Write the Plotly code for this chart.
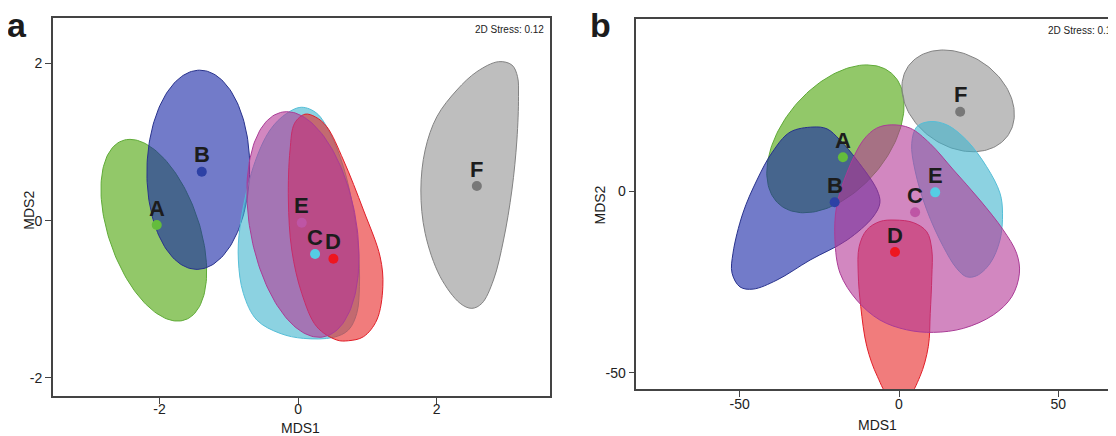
import numpy as np
import plotly.graph_objects as go

# The page body keeps the browser's default 8px margin, so the figure is drawn at (8, 8)
OX, OY = 8, 8
W, H = 1116 - OX, 436 - OY

groups = ["A", "B", "C", "D", "E", "F"]

# ---------------- Panel a (MDS1 / MDS2 coordinates) ----------------
a_point_x = [-2.04, -1.39, 0.245, 0.51, 0.053, 2.58]
a_point_y = [-0.055, 0.623, -0.424, -0.483, -0.025, 0.441]
a_colorkey = {"A": "green", "B": "navy", "C": "cyan", "D": "red", "E": "magenta", "F": "gray"}
# ellipse groups: centre x, centre y, half-width, half-height, x-offset of top point
a_ellipses = {
    "A": (-2.082, -0.121, 0.763, 1.156, -0.344),
    "B": (-1.44, 0.648, 0.742, 1.267, 0.02),
    "E": (0.070, -0.048, 0.809, 1.435, -0.233),
}
a_hull_C_x = [0.053, 0.270, 0.462, 0.654, 0.799, 0.871, 0.885, 0.847, 0.726, 0.510, 0.077,
              -0.260, -0.596, -0.790, -0.862, -0.838, -0.645, -0.404, -0.163]
a_hull_C_y = [1.443, 1.366, 1.112, 0.687, 0.136, -0.373, -0.840, -1.178, -1.391, -1.484, -1.497,
              -1.433, -1.263, -0.924, -0.500, -0.076, 0.687, 1.154, 1.366]
a_hull_D_x = [0.10, 0.25, 0.414, 0.654, 0.943, 1.184, 1.223, 1.136, 0.943, 0.726, 0.559, 0.270,
              0.053, -0.091, -0.140, -0.116, -0.05]
a_hull_D_y = [1.355, 1.32, 1.196, 0.772, 0.136, -0.458, -0.840, -1.263, -1.476, -1.527, -1.518, -1.349,
              -0.924, -0.373, 0.263, 0.899, 1.24]
a_hull_F_x = [2.892, 3.086, 3.167, 3.181, 3.158, 3.086, 2.965, 2.820, 2.653, 2.508, 2.339, 2.051,
              1.834, 1.772, 1.834, 2.003, 2.292, 2.581]
a_hull_F_y = [2.023, 1.981, 1.832, 1.578, 1.027, 0.391, -0.246, -0.754, -1.051, -1.115, -1.051, -0.712,
              -0.160, 0.391, 0.900, 1.323, 1.663, 1.896]
a_hulls = {"C": (a_hull_C_x, a_hull_C_y), "D": (a_hull_D_x, a_hull_D_y), "F": (a_hull_F_x, a_hull_F_y)}
a_xticks = [-2, 0, 2]
a_yticks = [-2, 0, 2]
a_xticktext = ["-2", "0", "2"]
a_yticktext = ["-2", "0", "2"]

# ---------------- Panel b ----------------
b_point_x = [-17.6, -20.2, 5.05, -1.26, 11.36, 19.2]
b_point_y = [9.27, -3.1, -5.87, -16.8, -0.37, 21.8]
b_colorkey = {"A": "green", "B": "navy", "C": "magenta", "D": "red", "E": "cyan", "F": "gray"}
b_ellipses = {
    "A": (-19.95, 14.35, 21.55, 20.35, 9.85),
    "F": (18.55, 24.8, 17.65, 14.0, -4.65),
}
b_hull_B_x = [-27.0, -34.2, -39.9, -44.6, -49.0, -52.1, -52.4, -49.9, -45.8, -38.3, -27.9, -16.3,
              -8.2, -6.0, -6.9, -13.2, -18.5, -22.6]
b_hull_B_y = [17.6, 16.2, 10.5, 3.0, -6.1, -17.1, -22.6, -26.4, -27.0, -24.5, -19.0, -13.5,
              -7.2, -3.3, 0.3, 8.5, 14.0, 17.1]
b_hull_C_x = [-2.3, 3.5, 9.7, 17.1, 25.4, 32.7, 36.9, 37.8, 35.4, 29.6, 20.2, 10.8, 2.4, -6.0,
              -13.3, -18.5, -20.1, -19.6, -16.4, -11.2, -7.0]
b_hull_C_y = [18.2, 17.3, 13.1, 5.8, -2.5, -10.7, -17.1, -22.6, -29.1, -34.1, -37.8, -38.9, -38.2, -35.5,
              -30.0, -22.6, -13.5, -4.3, 4.9, 14.0, 17.3]
b_hull_D_x = [-1.26, 4.5, 8.7, 10.3, 10.3, 9.8, 9.2, 6.6, 2.6, -2.8, -6.8, -10.1, -12.0, -12.8, -12.5,
              -10.1, -6.0]
b_hull_D_y = [-8.0, -8.7, -11.2, -16.2, -23.6, -33.7, -42.8, -51.0, -56.8, -56.8, -51.0, -42.8, -31.8,
              -22.6, -15.3, -10.7, -8.4]
b_hull_E_x = [9.7, 15.0, 21.2, 27.5, 31.7, 32.5, 31.7, 28.6, 24.4, 21.2, 18.1, 13.9, 8.7, 5.0, 4.0, 5.6]
b_hull_E_y = [19.1, 18.2, 14.0, 6.7, -0.6, -6.1, -13.5, -19.9, -23.3, -23.6, -21.3, -15.3, -5.2, 5.8,
              13.1, 17.7]
b_hulls = {"B": (b_hull_B_x, b_hull_B_y), "C": (b_hull_C_x, b_hull_C_y),
           "D": (b_hull_D_x, b_hull_D_y), "E": (b_hull_E_x, b_hull_E_y)}
b_xticks = [-50, 0, 50]
b_yticks = [-50, 0]
b_xticktext = ["-50", "0", "50"]
b_yticktext = ["-50", "0"]

stress_text = "2D Stress: 0.12"

# ---------------- styles ----------------
fill_rgb = {"green": (73, 163, 5), "navy": (20, 35, 165), "cyan": (63, 180, 205),
            "magenta": (180, 55, 150), "red": (232, 36, 36), "gray": (147, 147, 147)}
line_rgb = {"green": (95, 170, 55), "navy": (40, 50, 140), "cyan": (85, 190, 215),
            "magenta": (170, 60, 150), "red": (225, 30, 40), "gray": (130, 130, 130)}
point_rgb = {"green": (100, 188, 60), "navy": (45, 65, 165), "cyan": (85, 205, 228),
             "magenta": (190, 85, 165), "red": (238, 22, 32), "gray": (120, 120, 120)}
color_order = ["green", "navy", "gray", "cyan", "red", "magenta"]
ALPHA = 0.6
FONT = "Liberation Sans, Arial, sans-serif"


def px_x(v):  # viewport pixel -> paper fraction
    return (v - OX) / W


def px_y(v):
    return 1 - (v - OY) / H


def ellipse(cx, cy, hw, hh, topdx, n=160):
    phi = np.arccos(np.clip(topdx / hw, -1, 1))
    t = np.linspace(0, 2 * np.pi, n)
    return cx + hw * np.cos(t - phi), cy + hh * np.cos(t)


fig = go.Figure()


def add_panel(ellipses, hulls, colorkey, px, py, xa, ya):
    order = sorted(groups, key=lambda g: color_order.index(colorkey[g]))
    for g in order:
        ck = colorkey[g]
        fr, fg, fb = fill_rgb[ck]
        lr, lg, lb = line_rgb[ck]
        if g in ellipses:
            ex, ey = ellipse(*ellipses[g])
            shape = "linear"
        else:
            hx, hy = hulls[g]
            ex = list(hx) + [hx[0]]
            ey = list(hy) + [hy[0]]
            shape = "spline"
        fig.add_trace(go.Scatter(
            x=ex, y=ey, mode="lines", fill="toself",
            fillcolor=f"rgba({fr},{fg},{fb},{ALPHA})",
            line=dict(color=f"rgb({lr},{lg},{lb})", width=1, shape=shape, smoothing=1.0),
            hoverinfo="skip", showlegend=False, xaxis=xa, yaxis=ya))
    for i, g in enumerate(groups):
        r, gg, b = point_rgb[colorkey[g]]
        fig.add_trace(go.Scatter(
            x=[px[i]], y=[py[i]], mode="markers",
            marker=dict(size=10, color=f"rgb({r},{gg},{b})", line=dict(width=0)),
            showlegend=False, xaxis=xa, yaxis=ya))
        fig.add_annotation(x=px[i], y=py[i], xref=xa, yref=ya, text=g, showarrow=False,
                           yshift=17, font=dict(family=FONT, size=22, color="#1c1c1c", weight="bold"))


add_panel(a_ellipses, a_hulls, a_colorkey, a_point_x, a_point_y, "x", "y")
add_panel(b_ellipses, b_hulls, b_colorkey, b_point_x, b_point_y, "x2", "y2")

axis_common = dict(showgrid=False, zeroline=False, showline=True, linecolor="#444", linewidth=1.5,
                   ticks="outside", ticklen=6, tickwidth=1.2, tickcolor="#444",
                   tickfont=dict(family=FONT, size=14, color="#222"), automargin=False)

fig.update_layout(
    width=W, height=H, margin=dict(l=0, r=0, t=0, b=0),
    paper_bgcolor="white", plot_bgcolor="white",
    xaxis=dict(domain=[px_x(52.8), px_x(550.3)], range=[-3.54, 3.64], mirror=True,
               tickvals=a_xticks, ticktext=a_xticktext, anchor="y", ticklabelstandoff=-7,
               **axis_common),
    yaxis=dict(domain=[px_y(396), px_y(18.3)], range=[-2.23, 2.575], mirror=True,
               tickvals=a_yticks, ticktext=a_yticktext, anchor="x", **axis_common),
    xaxis2=dict(domain=[px_x(636.4), 1.0], range=[-82.42, 68.11], mirror=True,
                tickvals=b_xticks, ticktext=b_xticktext, anchor="y2", ticklabelstandoff=-5,
                **axis_common),
    yaxis2=dict(domain=[px_y(389.3), px_y(19)], range=[-54.57, 47.33], mirror=False,
                tickvals=b_yticks, ticktext=b_yticktext, anchor="x2", **axis_common),
)


def paper_text(x_px, y_px, text, size, bold=False, angle=0, xanchor="center"):
    fig.add_annotation(x=px_x(x_px), y=px_y(y_px), xref="paper", yref="paper", text=text,
                       showarrow=False, xanchor=xanchor, yanchor="middle", textangle=angle,
                       font=dict(family=FONT, size=size, color="#1c1c1c",
                                 weight="bold" if bold else "normal"))


paper_text(17, 25, "a", 34, bold=True)
paper_text(600, 25, "b", 34, bold=True)
paper_text(300, 428, "MDS1", 14)
paper_text(878, 425, "MDS1", 14)
paper_text(28.7, 210, "MDS2", 14, angle=-90)
paper_text(599.5, 205, "MDS2", 14, angle=-90)
paper_text(546, 30, stress_text, 10, xanchor="right")
paper_text(1046, 31, stress_text, 10, xanchor="left")

fig.write_html("out.html")
